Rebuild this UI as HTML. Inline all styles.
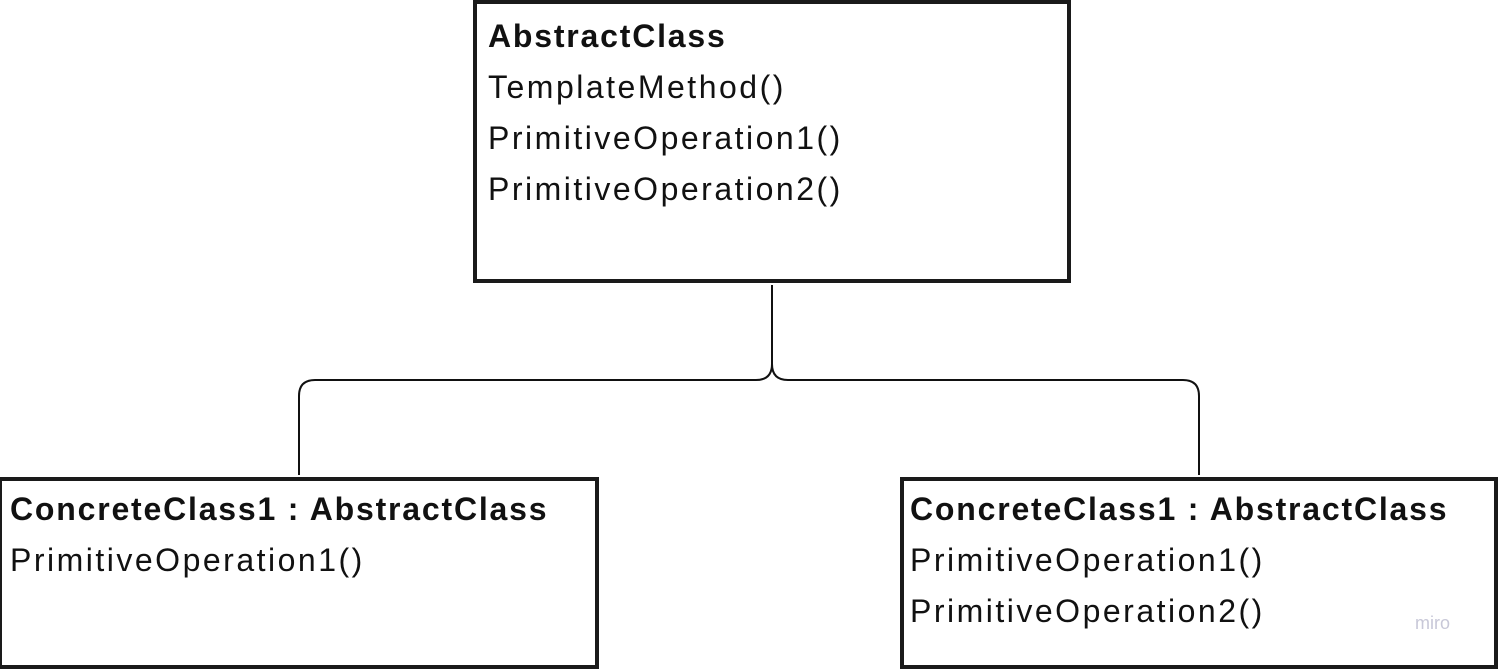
<!DOCTYPE html>
<html><head><style>
body{margin:0;width:1498px;height:667px;background:#fff;position:relative;overflow:hidden;font-family:"Liberation Sans",sans-serif;color:#111}
.b{position:absolute;border:4px solid #1a1a1a;box-sizing:border-box;background:#fff}
.t{position:absolute;font-size:32px;line-height:51px;white-space:nowrap;letter-spacing:2.5px}
.t b{font-weight:bold;letter-spacing:1.8px}
</style></head><body>
<div class="b" style="left:473px;top:0;width:598px;height:283px"></div>
<div class="b" style="left:-2px;top:477px;width:601px;height:192px"></div>
<div class="b" style="left:900px;top:477px;width:598px;height:192px"></div>
<svg width="1498" height="667" style="position:absolute;left:0;top:0">
<path d="M772 285 V364 Q772 380 756 380 H315 Q299 380 299 396 V475" fill="none" stroke="#111" stroke-width="2"/>
<path d="M772 364 Q772 380 788 380 H1183 Q1199 380 1199 396 V475" fill="none" stroke="#111" stroke-width="2"/>
</svg>
<div class="t" style="left:488px;top:11px"><b>AbstractClass</b><br>TemplateMethod()<br>PrimitiveOperation1()<br>PrimitiveOperation2()</div>
<div class="t" style="left:10px;top:484px"><b>ConcreteClass1 : AbstractClass</b><br>PrimitiveOperation1()</div>
<div class="t" style="left:910px;top:484px"><b>ConcreteClass1 : AbstractClass</b><br>PrimitiveOperation1()<br>PrimitiveOperation2()</div>
<div style="position:absolute;left:1415px;top:613px;font-size:18px;color:#c8c8d8;font-family:'Liberation Sans',sans-serif">miro</div>
</body></html>
